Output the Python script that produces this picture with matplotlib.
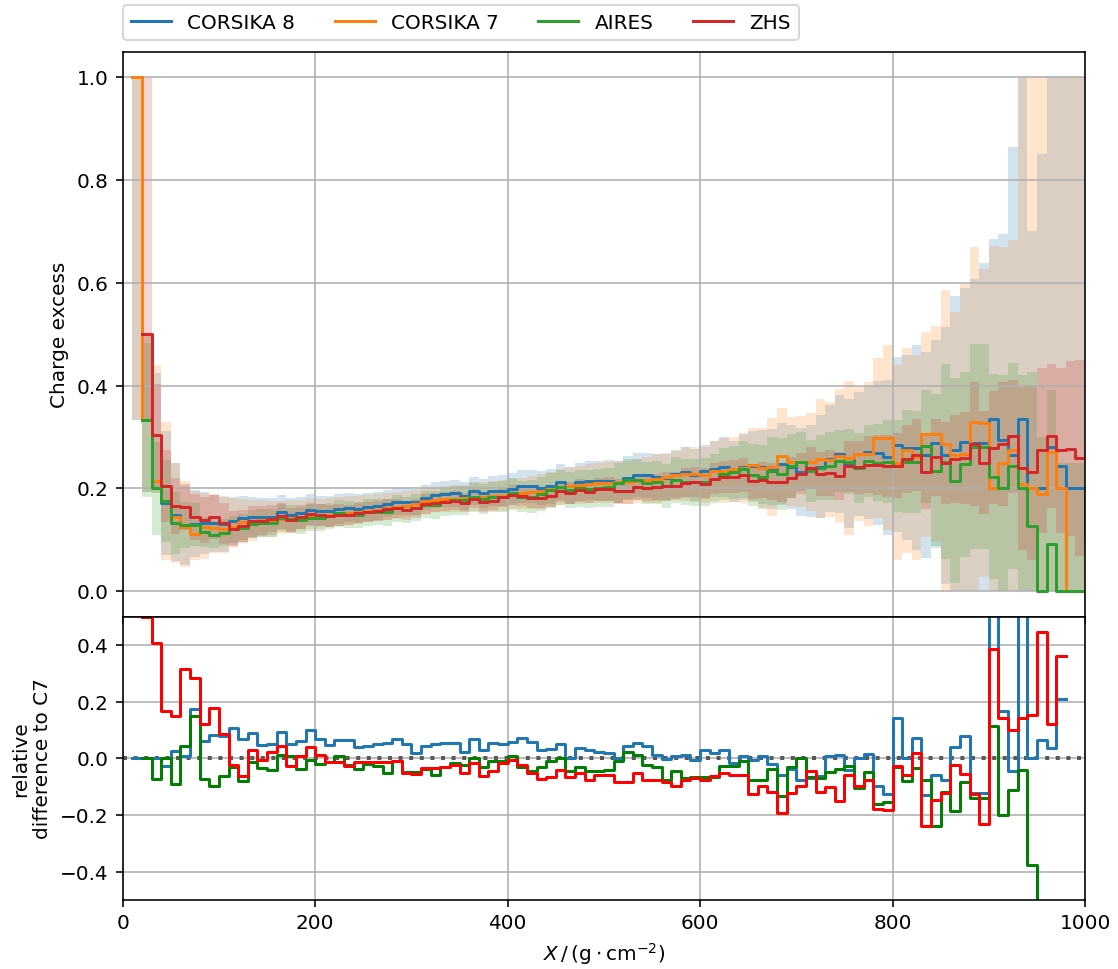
import numpy as np
import matplotlib
matplotlib.use("Agg")
import matplotlib.pyplot as plt

nan = np.nan

# Step start points in slant depth (g/cm^2); each value holds until the next point
depth = np.arange(10, 1001, 10)

# Mean charge excess per depth bin (last entry is the value at X = 1000)
c8_mean = [
    1.0, 0.333, 0.215, 0.171, 0.149, 0.125, 0.131, 0.132, 0.132, 0.130,
    0.137, 0.143, 0.144, 0.145, 0.145, 0.153, 0.149, 0.152, 0.158, 0.156,
    0.155, 0.160, 0.162, 0.160, 0.163, 0.166, 0.170, 0.174, 0.174, 0.173,
    0.182, 0.187, 0.189, 0.190, 0.185, 0.195, 0.190, 0.195, 0.195, 0.199,
    0.204, 0.204, 0.201, 0.204, 0.212, 0.205, 0.213, 0.215, 0.215, 0.215,
    0.212, 0.221, 0.226, 0.225, 0.222, 0.221, 0.228, 0.231, 0.226, 0.233,
    0.238, 0.241, 0.233, 0.242, 0.244, 0.242, 0.237, 0.248, 0.242, 0.232,
    0.234, 0.242, 0.258, 0.266, 0.248, 0.267, 0.270, 0.269, 0.260, 0.285,
    0.279, 0.279, 0.265, 0.288, 0.264, 0.274, 0.290, 0.288, 0.288, 0.335,
    0.294, 0.264, 0.335, 0.201, 0.201, 0.281, 0.243, 0.201, 0.201, 0.097]
c7_mean = [
    1.0, 0.333, 0.215, 0.175, 0.145, 0.124, 0.112, 0.124, 0.122, 0.121,
    0.124, 0.134, 0.132, 0.138, 0.138, 0.140, 0.142, 0.143, 0.144, 0.146,
    0.148, 0.150, 0.152, 0.154, 0.156, 0.158, 0.161, 0.163, 0.166, 0.170,
    0.175, 0.178, 0.179, 0.180, 0.181, 0.183, 0.184, 0.185, 0.186, 0.188,
    0.190, 0.192, 0.195, 0.198, 0.202, 0.205, 0.206, 0.209, 0.210, 0.211,
    0.212, 0.212, 0.214, 0.216, 0.219, 0.222, 0.226, 0.228, 0.227, 0.226,
    0.234, 0.234, 0.237, 0.240, 0.245, 0.240, 0.242, 0.263, 0.252, 0.252,
    0.251, 0.258, 0.256, 0.263, 0.259, 0.267, 0.266, 0.298, 0.298, 0.250,
    0.274, 0.260, 0.305, 0.306, 0.286, 0.264, 0.267, 0.329, 0.327, 0.201,
    0.250, 0.274, 0.209, 0.201, 0.189, 0.271, 0.201, 0.0, 0.0, 0.0]
aires_mean = [
    nan, 0.333, 0.200, 0.175, 0.132, 0.129, 0.129, 0.115, 0.110, 0.114,
    0.120, 0.123, 0.130, 0.133, 0.132, 0.142, 0.141, 0.138, 0.143, 0.143,
    0.146, 0.151, 0.149, 0.148, 0.153, 0.154, 0.153, 0.161, 0.158, 0.162,
    0.168, 0.168, 0.174, 0.177, 0.177, 0.183, 0.179, 0.183, 0.184, 0.190,
    0.184, 0.184, 0.189, 0.196, 0.202, 0.196, 0.200, 0.199, 0.201, 0.202,
    0.210, 0.217, 0.217, 0.211, 0.212, 0.205, 0.216, 0.212, 0.212, 0.212,
    0.219, 0.228, 0.231, 0.237, 0.226, 0.222, 0.233, 0.228, 0.244, 0.252,
    0.234, 0.240, 0.243, 0.253, 0.252, 0.239, 0.253, 0.250, 0.252, 0.243,
    0.252, 0.251, 0.282, 0.233, 0.252, 0.215, 0.247, 0.281, 0.281, 0.223,
    0.201, 0.243, 0.201, 0.126, 0.0, 0.091, 0.0, 0.0, 0.0, 0.0]
zhs_mean = [
    nan, 0.500, 0.303, 0.204, 0.166, 0.163, 0.144, 0.139, 0.144, 0.132,
    0.121, 0.126, 0.136, 0.137, 0.141, 0.146, 0.138, 0.144, 0.150, 0.148,
    0.146, 0.148, 0.148, 0.152, 0.154, 0.156, 0.159, 0.161, 0.157, 0.161,
    0.169, 0.172, 0.174, 0.176, 0.172, 0.180, 0.173, 0.176, 0.183, 0.187,
    0.186, 0.182, 0.181, 0.185, 0.194, 0.191, 0.196, 0.193, 0.198, 0.199,
    0.194, 0.194, 0.203, 0.200, 0.202, 0.204, 0.204, 0.211, 0.212, 0.209,
    0.219, 0.222, 0.223, 0.226, 0.214, 0.216, 0.213, 0.212, 0.221, 0.228,
    0.240, 0.228, 0.230, 0.224, 0.243, 0.241, 0.246, 0.245, 0.244, 0.244,
    0.257, 0.265, 0.231, 0.260, 0.250, 0.257, 0.259, 0.286, 0.250, 0.279,
    0.286, 0.301, 0.240, 0.231, 0.274, 0.301, 0.274, 0.277, 0.259, 0.259]

# Lower / upper edge of the shower-to-shower band per depth bin
c8_lo_spread = [
    0.667, 0.14, 0.025, 0.10, 0.09, 0.075, 0.065, 0.06, 0.055, 0.053,
    0.047, 0.043, 0.040, 0.037, 0.036, 0.034, 0.033, 0.032, 0.031, 0.030,
    0.030, 0.029, 0.028, 0.028, 0.027, 0.027, 0.026, 0.026, 0.026, 0.025,
    0.025, 0.025, 0.026, 0.026, 0.027, 0.027, 0.028, 0.029, 0.030, 0.031,
    0.032, 0.032, 0.033, 0.034, 0.035, 0.036, 0.037, 0.038, 0.039, 0.040,
    0.041, 0.042, 0.043, 0.044, 0.045, 0.046, 0.047, 0.049, 0.050, 0.052,
    0.055, 0.058, 0.060, 0.064, 0.068, 0.072, 0.078, 0.080, 0.082, 0.085,
    0.090, 0.100, 0.105, 0.115, 0.125, 0.120, 0.130, 0.140, 0.150, 0.170,
    0.180, 0.200, 0.200, 0.200, 0.250, 0.300, 0.300, 0.320, 0.350, 0.350,
    0.400, 0.600, 0.700, 0.500, 0.650, 0.750, 0.800, 0.800, 0.800]
c8_hi_spread = [
    0.667, 0.17, 0.21, 0.14, 0.10, 0.08, 0.065, 0.06, 0.055, 0.053,
    0.047, 0.043, 0.040, 0.037, 0.036, 0.034, 0.033, 0.032, 0.031, 0.030,
    0.030, 0.029, 0.028, 0.028, 0.027, 0.027, 0.026, 0.026, 0.026, 0.025,
    0.025, 0.025, 0.026, 0.026, 0.027, 0.027, 0.028, 0.029, 0.030, 0.031,
    0.032, 0.032, 0.033, 0.034, 0.035, 0.036, 0.037, 0.038, 0.039, 0.040,
    0.041, 0.042, 0.043, 0.044, 0.045, 0.046, 0.047, 0.049, 0.050, 0.052,
    0.055, 0.058, 0.060, 0.064, 0.068, 0.072, 0.078, 0.080, 0.082, 0.085,
    0.090, 0.100, 0.105, 0.115, 0.125, 0.120, 0.130, 0.140, 0.150, 0.170,
    0.180, 0.200, 0.200, 0.200, 0.250, 0.300, 0.300, 0.320, 0.350, 0.350,
    0.400, 0.600, 0.700, 0.500, 0.650, 0.750, 0.800, 0.800, 0.800]
c7_lo_spread = [
    0.667, 0.14, 0.025, 0.115, 0.09, 0.078, 0.052, 0.061, 0.047, 0.046,
    0.036, 0.039, 0.034, 0.033, 0.032, 0.029, 0.028, 0.026, 0.024, 0.025,
    0.024, 0.023, 0.023, 0.023, 0.022, 0.021, 0.022, 0.022, 0.022, 0.024,
    0.025, 0.025, 0.025, 0.026, 0.026, 0.027, 0.028, 0.029, 0.030, 0.030,
    0.031, 0.032, 0.033, 0.034, 0.035, 0.036, 0.037, 0.038, 0.039, 0.040,
    0.041, 0.042, 0.043, 0.044, 0.048, 0.046, 0.047, 0.052, 0.053, 0.054,
    0.058, 0.063, 0.063, 0.068, 0.072, 0.078, 0.095, 0.093, 0.086, 0.088,
    0.095, 0.115, 0.112, 0.130, 0.150, 0.130, 0.140, 0.155, 0.180, 0.190,
    0.200, 0.200, 0.200, 0.210, 0.300, 0.280, 0.330, 0.340, 0.300, 0.470,
    0.420, 0.410, 0.800, 0.800, 0.820, 0.750, 0.800, 1.000, 1.000]
c7_hi_spread = [
    0.667, 0.17, 0.225, 0.155, 0.105, 0.09, 0.083, 0.066, 0.066, 0.065,
    0.058, 0.046, 0.046, 0.039, 0.037, 0.036, 0.035, 0.035, 0.037, 0.034,
    0.034, 0.033, 0.033, 0.032, 0.031, 0.031, 0.029, 0.029, 0.028, 0.026,
    0.025, 0.025, 0.025, 0.026, 0.026, 0.027, 0.028, 0.029, 0.030, 0.030,
    0.031, 0.032, 0.033, 0.034, 0.035, 0.036, 0.037, 0.038, 0.039, 0.040,
    0.041, 0.042, 0.043, 0.044, 0.048, 0.046, 0.047, 0.052, 0.053, 0.054,
    0.058, 0.063, 0.063, 0.068, 0.072, 0.078, 0.095, 0.093, 0.086, 0.088,
    0.095, 0.115, 0.112, 0.130, 0.150, 0.130, 0.140, 0.155, 0.180, 0.190,
    0.200, 0.200, 0.200, 0.210, 0.300, 0.280, 0.330, 0.340, 0.300, 0.470,
    0.420, 0.410, 0.800, 0.800, 0.820, 0.750, 0.800, 1.000, 1.000]
aires_spread = [
    0.0, 0.15, 0.09, 0.08, 0.06, 0.045, 0.042, 0.030, 0.026, 0.026,
    0.027, 0.027, 0.027, 0.027, 0.027, 0.027, 0.026, 0.026, 0.026, 0.026,
    0.026, 0.026, 0.026, 0.026, 0.026, 0.026, 0.026, 0.026, 0.026, 0.026,
    0.026, 0.027, 0.027, 0.028, 0.028, 0.029, 0.029, 0.030, 0.030, 0.031,
    0.031, 0.032, 0.033, 0.034, 0.034, 0.035, 0.036, 0.037, 0.037, 0.038,
    0.039, 0.040, 0.040, 0.041, 0.042, 0.043, 0.044, 0.045, 0.046, 0.047,
    0.048, 0.050, 0.052, 0.055, 0.060, 0.062, 0.066, 0.070, 0.062, 0.058,
    0.060, 0.063, 0.066, 0.060, 0.064, 0.068, 0.070, 0.075, 0.080, 0.090,
    0.100, 0.100, 0.110, 0.150, 0.190, 0.200, 0.180, 0.200, 0.200, 0.200,
    0.220, 0.200, 0.220, 0.300, 0.300, 0.300, 0.250, 0.250, 0.250]
zhs_lo_spread = [
    0.0, 0.17, 0.10, 0.07, 0.055, 0.045, 0.045, 0.045, 0.043, 0.040,
    0.035, 0.032, 0.030, 0.028, 0.026, 0.025, 0.024, 0.023, 0.022, 0.022,
    0.021, 0.021, 0.020, 0.020, 0.020, 0.020, 0.020, 0.019, 0.019, 0.019,
    0.019, 0.019, 0.019, 0.019, 0.019, 0.019, 0.019, 0.019, 0.020, 0.020,
    0.020, 0.020, 0.021, 0.021, 0.021, 0.022, 0.022, 0.022, 0.023, 0.023,
    0.024, 0.024, 0.025, 0.025, 0.026, 0.027, 0.027, 0.028, 0.029, 0.030,
    0.030, 0.031, 0.032, 0.033, 0.034, 0.035, 0.036, 0.038, 0.039, 0.040,
    0.041, 0.043, 0.045, 0.047, 0.050, 0.052, 0.055, 0.058, 0.060, 0.063,
    0.066, 0.070, 0.072, 0.075, 0.080, 0.085, 0.090, 0.120, 0.100, 0.110,
    0.120, 0.110, 0.160, 0.170, 0.160, 0.140, 0.160, 0.170, 0.190]
zhs_hi_spread = [
    0.0, 0.50, 0.10, 0.07, 0.055, 0.045, 0.045, 0.045, 0.043, 0.040,
    0.035, 0.032, 0.030, 0.028, 0.026, 0.025, 0.024, 0.023, 0.022, 0.022,
    0.021, 0.021, 0.020, 0.020, 0.020, 0.020, 0.020, 0.019, 0.019, 0.019,
    0.019, 0.019, 0.019, 0.019, 0.019, 0.019, 0.019, 0.019, 0.020, 0.020,
    0.020, 0.020, 0.021, 0.021, 0.021, 0.022, 0.022, 0.022, 0.023, 0.023,
    0.024, 0.024, 0.025, 0.025, 0.026, 0.027, 0.027, 0.028, 0.029, 0.030,
    0.030, 0.031, 0.032, 0.033, 0.034, 0.035, 0.036, 0.038, 0.039, 0.040,
    0.041, 0.043, 0.045, 0.047, 0.050, 0.052, 0.055, 0.058, 0.060, 0.063,
    0.066, 0.070, 0.072, 0.075, 0.080, 0.085, 0.090, 0.120, 0.100, 0.110,
    0.120, 0.110, 0.160, 0.170, 0.160, 0.140, 0.160, 0.170, 0.190]

# Relative difference to CORSIKA 7 per depth bin
c8_rel = [
    0.0, 0.0, 0.0, -0.026, 0.027, 0.007, 0.174, 0.062, 0.082, 0.078,
    0.106, 0.069, 0.089, 0.048, 0.050, 0.094, 0.050, 0.062, 0.099, 0.067,
    0.047, 0.066, 0.066, 0.040, 0.042, 0.052, 0.056, 0.069, 0.049, 0.019,
    0.042, 0.049, 0.054, 0.054, 0.024, 0.068, 0.030, 0.054, 0.050, 0.059,
    0.073, 0.059, 0.030, 0.032, 0.050, 0.0, 0.036, 0.030, 0.024, 0.020,
    0.0, 0.042, 0.054, 0.042, 0.012, -0.003, 0.009, 0.012, -0.005, 0.030,
    0.018, 0.030, -0.015, 0.009, -0.005, 0.009, -0.019, -0.058, -0.038, -0.078,
    -0.069, -0.061, 0.009, 0.012, -0.042, 0.0, 0.016, -0.096, -0.126, 0.142,
    0.0, 0.072, -0.128, -0.059, -0.078, 0.039, 0.080, -0.122, -0.122, 0.670,
    0.166, -0.044, 0.600, 0.0, 0.064, 0.036, 0.211, nan, nan, nan]
aires_rel = [
    nan, 0.0, -0.073, 0.0, -0.091, 0.042, 0.151, -0.073, -0.099, -0.061,
    -0.031, -0.081, -0.012, -0.034, -0.042, 0.012, 0.007, -0.038, -0.007, -0.019,
    -0.014, 0.007, -0.022, -0.038, -0.020, -0.028, -0.052, -0.011, -0.048, -0.048,
    -0.038, -0.058, -0.029, -0.017, -0.023, 0.0, -0.029, -0.011, -0.011, 0.009,
    -0.032, -0.044, -0.032, -0.009, 0.0, -0.044, -0.029, -0.046, -0.044, -0.041,
    -0.011, 0.024, 0.012, -0.023, -0.032, -0.076, -0.046, -0.070, -0.064, -0.064,
    -0.064, -0.026, -0.026, -0.011, -0.076, -0.076, -0.038, -0.132, -0.032, 0.0,
    -0.067, -0.069, -0.049, -0.038, -0.026, -0.105, -0.049, -0.160, -0.155, -0.030,
    -0.081, -0.035, -0.075, -0.240, -0.120, -0.187, -0.082, -0.141, -0.141, 0.113,
    -0.199, -0.111, -0.041, -0.378, -1.0, -0.660, -1.0, nan, nan, nan]
zhs_rel = [
    nan, 0.499, 0.407, 0.166, 0.148, 0.315, 0.285, 0.122, 0.178, 0.087,
    -0.024, -0.061, 0.031, -0.005, 0.021, 0.045, -0.026, 0.007, 0.040, 0.012,
    -0.014, -0.014, -0.028, -0.012, -0.012, -0.014, -0.014, -0.011, -0.052, -0.055,
    -0.035, -0.035, -0.029, -0.023, -0.052, -0.017, -0.062, -0.046, -0.017, -0.005,
    -0.023, -0.050, -0.074, -0.064, -0.041, -0.066, -0.050, -0.078, -0.058, -0.058,
    -0.085, -0.085, -0.052, -0.076, -0.076, -0.082, -0.097, -0.076, -0.068, -0.076,
    -0.062, -0.052, -0.058, -0.058, -0.125, -0.099, -0.118, -0.193, -0.122, -0.096,
    -0.044, -0.118, -0.102, -0.149, -0.060, -0.099, -0.075, -0.178, -0.181, -0.026,
    -0.059, 0.019, -0.238, -0.146, -0.122, -0.024, -0.056, -0.125, -0.232, 0.386,
    0.142, 0.101, 0.141, 0.153, 0.447, 0.121, 0.362, nan, nan, nan]

labels = ["CORSIKA 8", "CORSIKA 7", "AIRES", "ZHS"]

DPI = 144
fig = plt.figure(figsize=(1118.5 / DPI, 969.5 / DPI), dpi=DPI)
ax_top = fig.add_axes([0.1097, 0.3633, 0.8604, 0.5830])
ax_bot = fig.add_axes([0.1097, 0.0712, 0.8604, 0.2921], sharex=ax_top)

top_series = [
    (c8_mean, c8_lo_spread, c8_hi_spread, "tab:blue"),
    (c7_mean, c7_lo_spread, c7_hi_spread, "tab:orange"),
    (aires_mean, aires_spread, aires_spread, "tab:green"),
    (zhs_mean, zhs_lo_spread, zhs_hi_spread, "tab:red"),
]

for mean, s_lo, s_hi, color in top_series:
    m = np.asarray(mean, dtype=float)
    lo = np.clip(m - np.r_[s_lo, s_lo[-1]], 0.0, 1.0)
    hi = np.clip(m + np.r_[s_hi, s_hi[-1]], 0.0, 1.0)
    ax_top.fill_between(depth, lo, hi, step="post", color=color,
                        alpha=0.2, linewidth=0)

for (mean, _, _, color), label in zip(top_series, labels):
    ax_top.step(depth, mean, where="post", color=color, lw=1.5, label=label)

ax_top.set_xlim(0, 1000)
ax_top.set_ylim(-0.05, 1.05)
ax_top.set_ylabel("Charge excess")
ax_top.grid(True)
ax_top.tick_params(labelbottom=False)
ax_top.legend(loc="lower left", bbox_to_anchor=(0.0, 1.02), ncol=4,
              borderaxespad=0.0)

ax_bot.axhline(0.0, color="0.35", ls=":", lw=2)
ax_bot.step(depth, c8_rel, where="post", color="tab:blue", lw=1.5)
ax_bot.step(depth, aires_rel, where="post", color="green", lw=1.5)
ax_bot.step(depth, zhs_rel, where="post", color="red", lw=1.5)
ax_bot.set_ylim(-0.5, 0.5)
ax_bot.set_yticks([-0.4, -0.2, 0.0, 0.2, 0.4])
ax_bot.set_ylabel("relative\ndifference to C7")
ax_bot.set_xlabel(r"$X\,/\,(\mathrm{g} \cdot \mathrm{cm}^{-2})$")
ax_bot.grid(True)

fig.savefig("out.png", dpi=DPI)
